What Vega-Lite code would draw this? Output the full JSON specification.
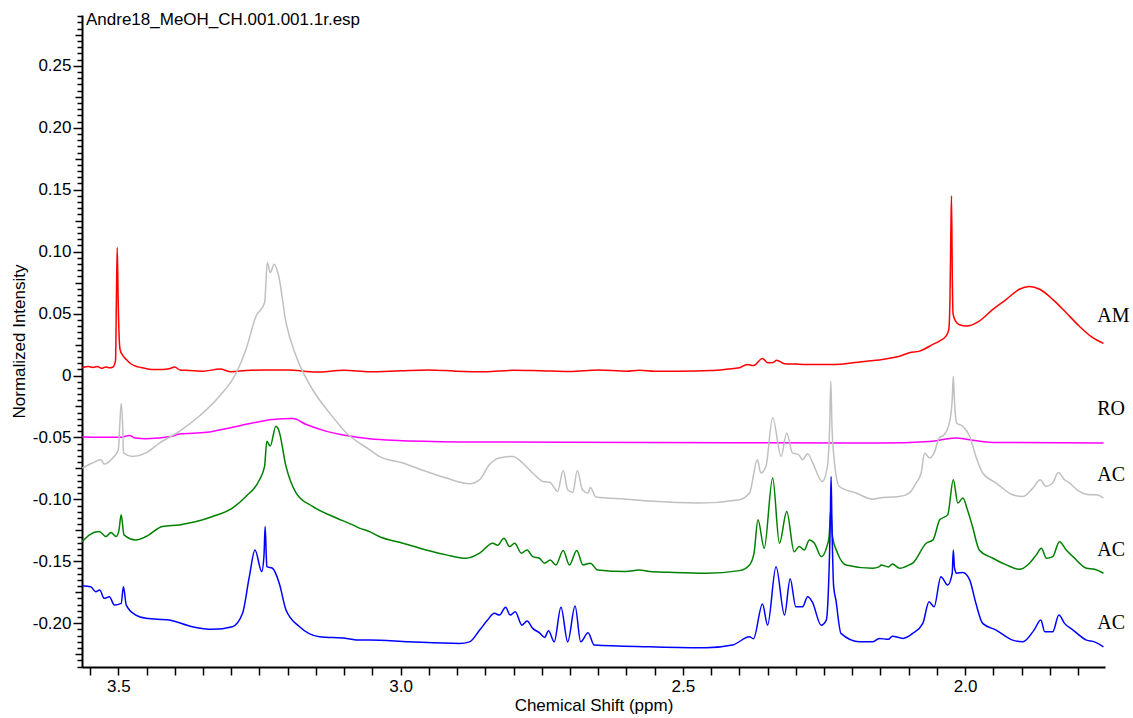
{
  "$schema": "https://vega.github.io/schema/vega-lite/v6.json",
  "width": 1023,
  "height": 652,
  "autosize": {"type": "none"},
  "padding": {"left": 82, "top": 15, "right": 28, "bottom": 51},
  "background": "white",
  "config": {"view": {"stroke": null}, "font": "Liberation Sans"},
  "title": {
    "text": "Andre18_MeOH_CH.001.001.1r.esp",
    "anchor": "start",
    "frame": "group",
    "orient": "top",
    "offset": -22,
    "dx": 4,
    "font": "Liberation Sans",
    "fontSize": 17,
    "fontWeight": "normal",
    "color": "black"
  },
  "datasets": {
    "spectra": [
      {"trace":"AM","ppm":3.564,"intensity":0.0062},{"trace":"AM","ppm":3.553,"intensity":0.0072},{"trace":"AM","ppm":3.545,"intensity":0.0065},{"trace":"AM","ppm":3.537,"intensity":0.0072},{"trace":"AM","ppm":3.530,"intensity":0.0058},{"trace":"AM","ppm":3.522,"intensity":0.0068},{"trace":"AM","ppm":3.515,"intensity":0.0062},{"trace":"AM","ppm":3.510,"intensity":0.0066},{"trace":"AM","ppm":3.505,"intensity":0.012},{"trace":"AM","ppm":3.5035,"intensity":0.06},{"trace":"AM","ppm":3.502,"intensity":0.1033},{"trace":"AM","ppm":3.5005,"intensity":0.065},{"trace":"AM","ppm":3.4985,"intensity":0.03},{"trace":"AM","ppm":3.497,"intensity":0.021},{"trace":"AM","ppm":3.492,"intensity":0.016},{"trace":"AM","ppm":3.486,"intensity":0.0129},{"trace":"AM","ppm":3.478,"intensity":0.0095},{"trace":"AM","ppm":3.469,"intensity":0.0075},{"trace":"AM","ppm":3.460,"intensity":0.0065},{"trace":"AM","ppm":3.450,"intensity":0.0055},{"trace":"AM","ppm":3.435,"intensity":0.0048},{"trace":"AM","ppm":3.422,"intensity":0.0049},{"trace":"AM","ppm":3.410,"intensity":0.0055},{"trace":"AM","ppm":3.400,"intensity":0.0068},{"trace":"AM","ppm":3.391,"intensity":0.0045},{"trace":"AM","ppm":3.381,"intensity":0.0042},{"trace":"AM","ppm":3.350,"intensity":0.0035},{"trace":"AM","ppm":3.320,"intensity":0.0052},{"trace":"AM","ppm":3.300,"intensity":0.003},{"trace":"AM","ppm":3.274,"intensity":0.004},{"trace":"AM","ppm":3.240,"intensity":0.0045},{"trace":"AM","ppm":3.200,"intensity":0.0045},{"trace":"AM","ppm":3.150,"intensity":0.0028},{"trace":"AM","ppm":3.100,"intensity":0.0042},{"trace":"AM","ppm":3.055,"intensity":0.003},{"trace":"AM","ppm":3.000,"intensity":0.0038},{"trace":"AM","ppm":2.950,"intensity":0.0045},{"trace":"AM","ppm":2.903,"intensity":0.0035},{"trace":"AM","ppm":2.850,"intensity":0.003},{"trace":"AM","ppm":2.800,"intensity":0.0042},{"trace":"AM","ppm":2.753,"intensity":0.0038},{"trace":"AM","ppm":2.700,"intensity":0.0032},{"trace":"AM","ppm":2.650,"intensity":0.0045},{"trace":"AM","ppm":2.600,"intensity":0.0035},{"trace":"AM","ppm":2.577,"intensity":0.0043},{"trace":"AM","ppm":2.550,"intensity":0.0035},{"trace":"AM","ppm":2.506,"intensity":0.0035},{"trace":"AM","ppm":2.450,"intensity":0.004},{"trace":"AM","ppm":2.420,"intensity":0.0052},{"trace":"AM","ppm":2.400,"intensity":0.0062},{"trace":"AM","ppm":2.386,"intensity":0.0089},{"trace":"AM","ppm":2.375,"intensity":0.008},{"trace":"AM","ppm":2.359,"intensity":0.0138},{"trace":"AM","ppm":2.350,"intensity":0.0103},{"trace":"AM","ppm":2.340,"intensity":0.0105},{"trace":"AM","ppm":2.334,"intensity":0.0124},{"trace":"AM","ppm":2.320,"intensity":0.0095},{"trace":"AM","ppm":2.300,"intensity":0.0092},{"trace":"AM","ppm":2.282,"intensity":0.0089},{"trace":"AM","ppm":2.229,"intensity":0.0089},{"trace":"AM","ppm":2.175,"intensity":0.0116},{"trace":"AM","ppm":2.152,"intensity":0.0125},{"trace":"AM","ppm":2.129,"intensity":0.0143},{"trace":"AM","ppm":2.116,"intensity":0.0156},{"trace":"AM","ppm":2.099,"intensity":0.0184},{"trace":"AM","ppm":2.081,"intensity":0.0197},{"trace":"AM","ppm":2.057,"intensity":0.0251},{"trace":"AM","ppm":2.045,"intensity":0.028},{"trace":"AM","ppm":2.034,"intensity":0.0318},{"trace":"AM","ppm":2.029,"intensity":0.037},{"trace":"AM","ppm":2.027,"intensity":0.06},{"trace":"AM","ppm":2.0255,"intensity":0.11},{"trace":"AM","ppm":2.0242,"intensity":0.1451},{"trace":"AM","ppm":2.0228,"intensity":0.08},{"trace":"AM","ppm":2.0215,"intensity":0.05},{"trace":"AM","ppm":2.017,"intensity":0.0439},{"trace":"AM","ppm":2.010,"intensity":0.041},{"trace":"AM","ppm":1.997,"intensity":0.0399},{"trace":"AM","ppm":1.975,"intensity":0.0439},{"trace":"AM","ppm":1.951,"intensity":0.0534},{"trace":"AM","ppm":1.927,"intensity":0.0615},{"trace":"AM","ppm":1.904,"intensity":0.0696},{"trace":"AM","ppm":1.886,"intensity":0.0718},{"trace":"AM","ppm":1.868,"intensity":0.0696},{"trace":"AM","ppm":1.845,"intensity":0.0615},{"trace":"AM","ppm":1.821,"intensity":0.0507},{"trace":"AM","ppm":1.798,"intensity":0.0399},{"trace":"AM","ppm":1.774,"intensity":0.0305},{"trace":"AM","ppm":1.755,"intensity":0.0259},

      {"trace":"RO","ppm":3.564,"intensity":-0.0496},{"trace":"RO","ppm":3.498,"intensity":-0.0499},{"trace":"RO","ppm":3.480,"intensity":-0.0485},{"trace":"RO","ppm":3.470,"intensity":-0.0505},{"trace":"RO","ppm":3.451,"intensity":-0.051},{"trace":"RO","ppm":3.404,"intensity":-0.0491},{"trace":"RO","ppm":3.392,"intensity":-0.0472},{"trace":"RO","ppm":3.344,"intensity":-0.0459},{"trace":"RO","ppm":3.303,"intensity":-0.0423},{"trace":"RO","ppm":3.262,"intensity":-0.0383},{"trace":"RO","ppm":3.227,"intensity":-0.0356},{"trace":"RO","ppm":3.191,"intensity":-0.0348},{"trace":"RO","ppm":3.167,"intensity":-0.0396},{"trace":"RO","ppm":3.131,"intensity":-0.0451},{"trace":"RO","ppm":3.096,"intensity":-0.0485},{"trace":"RO","ppm":3.055,"intensity":-0.051},{"trace":"RO","ppm":3.014,"intensity":-0.0523},{"trace":"RO","ppm":2.896,"intensity":-0.0536},{"trace":"RO","ppm":2.559,"intensity":-0.054},{"trace":"RO","ppm":2.206,"intensity":-0.0545},{"trace":"RO","ppm":2.152,"intensity":-0.0545},{"trace":"RO","ppm":2.063,"intensity":-0.0532},{"trace":"RO","ppm":2.016,"intensity":-0.0504},{"trace":"RO","ppm":1.992,"intensity":-0.0518},{"trace":"RO","ppm":1.951,"intensity":-0.054},{"trace":"RO","ppm":1.755,"intensity":-0.0545},

      {"trace":"AC1","ppm":3.564,"intensity":-0.0747},{"trace":"AC1","ppm":3.546,"intensity":-0.0706},{"trace":"AC1","ppm":3.531,"intensity":-0.068},{"trace":"AC1","ppm":3.525,"intensity":-0.0715},{"trace":"AC1","ppm":3.510,"intensity":-0.0666},{"trace":"AC1","ppm":3.500,"intensity":-0.06},{"trace":"AC1","ppm":3.4975,"intensity":-0.04},{"trace":"AC1","ppm":3.495,"intensity":-0.0227},{"trace":"AC1","ppm":3.492,"intensity":-0.045},{"trace":"AC1","ppm":3.491,"intensity":-0.0625},{"trace":"AC1","ppm":3.475,"intensity":-0.0653},{"trace":"AC1","ppm":3.451,"intensity":-0.0625},{"trace":"AC1","ppm":3.427,"intensity":-0.0545},{"trace":"AC1","ppm":3.392,"intensity":-0.0451},{"trace":"AC1","ppm":3.357,"intensity":-0.0329},{"trace":"AC1","ppm":3.321,"intensity":-0.0167},{"trace":"AC1","ppm":3.291,"intensity":0.0022},{"trace":"AC1","ppm":3.274,"intensity":0.021},{"trace":"AC1","ppm":3.256,"intensity":0.048},{"trace":"AC1","ppm":3.241,"intensity":0.0588},{"trace":"AC1","ppm":3.236,"intensity":0.0912},{"trace":"AC1","ppm":3.231,"intensity":0.0831},{"trace":"AC1","ppm":3.224,"intensity":0.0898},{"trace":"AC1","ppm":3.216,"intensity":0.0803},{"trace":"AC1","ppm":3.203,"intensity":0.0426},{"trace":"AC1","ppm":3.185,"intensity":0.0156},{"trace":"AC1","ppm":3.156,"intensity":-0.0113},{"trace":"AC1","ppm":3.126,"intensity":-0.0302},{"trace":"AC1","ppm":3.096,"intensity":-0.0464},{"trace":"AC1","ppm":3.055,"intensity":-0.0599},{"trace":"AC1","ppm":3.038,"intensity":-0.0653},{"trace":"AC1","ppm":2.996,"intensity":-0.0706},{"trace":"AC1","ppm":2.955,"intensity":-0.0774},{"trace":"AC1","ppm":2.919,"intensity":-0.0828},{"trace":"AC1","ppm":2.878,"intensity":-0.0874},{"trace":"AC1","ppm":2.860,"intensity":-0.0841},{"trace":"AC1","ppm":2.843,"intensity":-0.072},{"trace":"AC1","ppm":2.825,"intensity":-0.0666},{"trace":"AC1","ppm":2.801,"intensity":-0.0653},{"trace":"AC1","ppm":2.784,"intensity":-0.0706},{"trace":"AC1","ppm":2.766,"intensity":-0.0787},{"trace":"AC1","ppm":2.748,"intensity":-0.0855},{"trace":"AC1","ppm":2.735,"intensity":-0.0863},{"trace":"AC1","ppm":2.722,"intensity":-0.0936},{"trace":"AC1","ppm":2.712,"intensity":-0.0766},{"trace":"AC1","ppm":2.704,"intensity":-0.0922},{"trace":"AC1","ppm":2.695,"intensity":-0.0944},{"trace":"AC1","ppm":2.687,"intensity":-0.0766},{"trace":"AC1","ppm":2.678,"intensity":-0.0922},{"trace":"AC1","ppm":2.668,"intensity":-0.0949},{"trace":"AC1","ppm":2.664,"intensity":-0.0904},{"trace":"AC1","ppm":2.654,"intensity":-0.0981},{"trace":"AC1","ppm":2.601,"intensity":-0.0998},{"trace":"AC1","ppm":2.559,"intensity":-0.1014},{"trace":"AC1","ppm":2.471,"intensity":-0.103},{"trace":"AC1","ppm":2.400,"intensity":-0.1003},{"trace":"AC1","ppm":2.382,"intensity":-0.0949},{"trace":"AC1","ppm":2.368,"intensity":-0.068},{"trace":"AC1","ppm":2.362,"intensity":-0.0787},{"trace":"AC1","ppm":2.353,"intensity":-0.0734},{"trace":"AC1","ppm":2.341,"intensity":-0.0342},{"trace":"AC1","ppm":2.326,"intensity":-0.0653},{"trace":"AC1","ppm":2.316,"intensity":-0.0464},{"trace":"AC1","ppm":2.306,"intensity":-0.0625},{"trace":"AC1","ppm":2.295,"intensity":-0.0639},{"trace":"AC1","ppm":2.288,"intensity":-0.068},{"trace":"AC1","ppm":2.279,"intensity":-0.0631},{"trace":"AC1","ppm":2.270,"intensity":-0.0706},{"trace":"AC1","ppm":2.253,"intensity":-0.0855},{"trace":"AC1","ppm":2.244,"intensity":-0.0734},{"trace":"AC1","ppm":2.240,"intensity":-0.04},{"trace":"AC1","ppm":2.238,"intensity":-0.0046},{"trace":"AC1","ppm":2.236,"intensity":-0.04},{"trace":"AC1","ppm":2.232,"intensity":-0.068},{"trace":"AC1","ppm":2.223,"intensity":-0.0896},{"trace":"AC1","ppm":2.193,"intensity":-0.0949},{"trace":"AC1","ppm":2.164,"intensity":-0.0998},{"trace":"AC1","ppm":2.152,"intensity":-0.0989},{"trace":"AC1","ppm":2.129,"intensity":-0.0981},{"trace":"AC1","ppm":2.117,"intensity":-0.0977},{"trace":"AC1","ppm":2.099,"intensity":-0.0949},{"trace":"AC1","ppm":2.087,"intensity":-0.0868},{"trace":"AC1","ppm":2.078,"intensity":-0.0787},{"trace":"AC1","ppm":2.072,"intensity":-0.0625},{"trace":"AC1","ppm":2.063,"intensity":-0.0666},{"trace":"AC1","ppm":2.055,"intensity":-0.0625},{"trace":"AC1","ppm":2.046,"intensity":-0.0504},{"trace":"AC1","ppm":2.037,"intensity":-0.0477},{"trace":"AC1","ppm":2.028,"intensity":-0.0383},{"trace":"AC1","ppm":2.023,"intensity":-0.02},{"trace":"AC1","ppm":2.021,"intensity":-0.0006},{"trace":"AC1","ppm":2.019,"intensity":-0.02},{"trace":"AC1","ppm":2.015,"intensity":-0.0383},{"trace":"AC1","ppm":2.004,"intensity":-0.041},{"trace":"AC1","ppm":1.992,"intensity":-0.0491},{"trace":"AC1","ppm":1.981,"intensity":-0.0653},{"trace":"AC1","ppm":1.969,"intensity":-0.0787},{"trace":"AC1","ppm":1.945,"intensity":-0.0868},{"trace":"AC1","ppm":1.916,"intensity":-0.0963},{"trace":"AC1","ppm":1.898,"intensity":-0.0977},{"trace":"AC1","ppm":1.880,"intensity":-0.0909},{"trace":"AC1","ppm":1.867,"intensity":-0.0841},{"trace":"AC1","ppm":1.857,"intensity":-0.0896},{"trace":"AC1","ppm":1.845,"intensity":-0.0868},{"trace":"AC1","ppm":1.835,"intensity":-0.0782},{"trace":"AC1","ppm":1.824,"intensity":-0.0841},{"trace":"AC1","ppm":1.815,"intensity":-0.0868},{"trace":"AC1","ppm":1.798,"intensity":-0.0936},{"trace":"AC1","ppm":1.780,"intensity":-0.0963},{"trace":"AC1","ppm":1.768,"intensity":-0.0963},{"trace":"AC1","ppm":1.755,"intensity":-0.0989},

      {"trace":"AC2","ppm":3.564,"intensity":-0.1341},{"trace":"AC2","ppm":3.551,"intensity":-0.1286},{"trace":"AC2","ppm":3.534,"intensity":-0.126},{"trace":"AC2","ppm":3.522,"intensity":-0.13},{"trace":"AC2","ppm":3.513,"intensity":-0.1268},{"trace":"AC2","ppm":3.504,"intensity":-0.13},{"trace":"AC2","ppm":3.499,"intensity":-0.125},{"trace":"AC2","ppm":3.495,"intensity":-0.1125},{"trace":"AC2","ppm":3.490,"intensity":-0.1286},{"trace":"AC2","ppm":3.469,"intensity":-0.1327},{"trace":"AC2","ppm":3.451,"intensity":-0.13},{"trace":"AC2","ppm":3.422,"intensity":-0.1219},{"trace":"AC2","ppm":3.392,"intensity":-0.1206},{"trace":"AC2","ppm":3.362,"intensity":-0.1179},{"trace":"AC2","ppm":3.333,"intensity":-0.1138},{"trace":"AC2","ppm":3.298,"intensity":-0.107},{"trace":"AC2","ppm":3.274,"intensity":-0.0977},{"trace":"AC2","ppm":3.250,"intensity":-0.0841},{"trace":"AC2","ppm":3.241,"intensity":-0.0734},{"trace":"AC2","ppm":3.237,"intensity":-0.053},{"trace":"AC2","ppm":3.231,"intensity":-0.057},{"trace":"AC2","ppm":3.221,"intensity":-0.041},{"trace":"AC2","ppm":3.216,"intensity":-0.044},{"trace":"AC2","ppm":3.203,"intensity":-0.0734},{"trace":"AC2","ppm":3.185,"intensity":-0.0949},{"trace":"AC2","ppm":3.156,"intensity":-0.1057},{"trace":"AC2","ppm":3.120,"intensity":-0.1138},{"trace":"AC2","ppm":3.085,"intensity":-0.1206},{"trace":"AC2","ppm":3.073,"intensity":-0.1232},{"trace":"AC2","ppm":3.055,"intensity":-0.126},{"trace":"AC2","ppm":3.038,"intensity":-0.13},{"trace":"AC2","ppm":2.996,"intensity":-0.1354},{"trace":"AC2","ppm":2.955,"intensity":-0.1408},{"trace":"AC2","ppm":2.919,"intensity":-0.1448},{"trace":"AC2","ppm":2.884,"intensity":-0.1475},{"trace":"AC2","ppm":2.860,"intensity":-0.1434},{"trace":"AC2","ppm":2.837,"intensity":-0.1354},{"trace":"AC2","ppm":2.828,"intensity":-0.137},{"trace":"AC2","ppm":2.817,"intensity":-0.1313},{"trace":"AC2","ppm":2.807,"intensity":-0.1381},{"trace":"AC2","ppm":2.798,"intensity":-0.1354},{"trace":"AC2","ppm":2.786,"intensity":-0.1434},{"trace":"AC2","ppm":2.776,"intensity":-0.1408},{"trace":"AC2","ppm":2.766,"intensity":-0.1462},{"trace":"AC2","ppm":2.754,"intensity":-0.1475},{"trace":"AC2","ppm":2.745,"intensity":-0.1515},{"trace":"AC2","ppm":2.735,"intensity":-0.1489},{"trace":"AC2","ppm":2.725,"intensity":-0.1529},{"trace":"AC2","ppm":2.712,"intensity":-0.1413},{"trace":"AC2","ppm":2.701,"intensity":-0.1529},{"trace":"AC2","ppm":2.688,"intensity":-0.1413},{"trace":"AC2","ppm":2.677,"intensity":-0.1529},{"trace":"AC2","ppm":2.664,"intensity":-0.1515},{"trace":"AC2","ppm":2.651,"intensity":-0.157},{"trace":"AC2","ppm":2.601,"intensity":-0.1583},{"trace":"AC2","ppm":2.577,"intensity":-0.157},{"trace":"AC2","ppm":2.559,"intensity":-0.1583},{"trace":"AC2","ppm":2.524,"intensity":-0.1589},{"trace":"AC2","ppm":2.459,"intensity":-0.1596},{"trace":"AC2","ppm":2.400,"intensity":-0.1575},{"trace":"AC2","ppm":2.382,"intensity":-0.1529},{"trace":"AC2","ppm":2.374,"intensity":-0.1434},{"trace":"AC2","ppm":2.367,"intensity":-0.1165},{"trace":"AC2","ppm":2.356,"intensity":-0.1394},{"trace":"AC2","ppm":2.341,"intensity":-0.0828},{"trace":"AC2","ppm":2.329,"intensity":-0.1354},{"trace":"AC2","ppm":2.316,"intensity":-0.1098},{"trace":"AC2","ppm":2.303,"intensity":-0.1422},{"trace":"AC2","ppm":2.294,"intensity":-0.1381},{"trace":"AC2","ppm":2.285,"intensity":-0.1408},{"trace":"AC2","ppm":2.276,"intensity":-0.1327},{"trace":"AC2","ppm":2.267,"intensity":-0.1354},{"trace":"AC2","ppm":2.255,"intensity":-0.1462},{"trace":"AC2","ppm":2.245,"intensity":-0.1381},{"trace":"AC2","ppm":2.241,"intensity":-0.13},{"trace":"AC2","ppm":2.238,"intensity":-0.108},{"trace":"AC2","ppm":2.235,"intensity":-0.13},{"trace":"AC2","ppm":2.226,"intensity":-0.1434},{"trace":"AC2","ppm":2.211,"intensity":-0.1529},{"trace":"AC2","ppm":2.164,"intensity":-0.1556},{"trace":"AC2","ppm":2.152,"intensity":-0.1543},{"trace":"AC2","ppm":2.149,"intensity":-0.1529},{"trace":"AC2","ppm":2.136,"intensity":-0.1545},{"trace":"AC2","ppm":2.129,"intensity":-0.1521},{"trace":"AC2","ppm":2.116,"intensity":-0.1556},{"trace":"AC2","ppm":2.099,"intensity":-0.1529},{"trace":"AC2","ppm":2.093,"intensity":-0.1515},{"trace":"AC2","ppm":2.069,"intensity":-0.1354},{"trace":"AC2","ppm":2.057,"intensity":-0.1327},{"trace":"AC2","ppm":2.045,"intensity":-0.1165},{"trace":"AC2","ppm":2.031,"intensity":-0.1125},{"trace":"AC2","ppm":2.021,"intensity":-0.0841},{"trace":"AC2","ppm":2.013,"intensity":-0.103},{"trace":"AC2","ppm":2.004,"intensity":-0.0989},{"trace":"AC2","ppm":1.996,"intensity":-0.1084},{"trace":"AC2","ppm":1.987,"intensity":-0.1219},{"trace":"AC2","ppm":1.975,"intensity":-0.1408},{"trace":"AC2","ppm":1.951,"intensity":-0.1475},{"trace":"AC2","ppm":1.927,"intensity":-0.1529},{"trace":"AC2","ppm":1.904,"intensity":-0.1564},{"trace":"AC2","ppm":1.886,"intensity":-0.1515},{"trace":"AC2","ppm":1.874,"intensity":-0.1448},{"trace":"AC2","ppm":1.865,"intensity":-0.1394},{"trace":"AC2","ppm":1.856,"intensity":-0.1475},{"trace":"AC2","ppm":1.845,"intensity":-0.1462},{"trace":"AC2","ppm":1.833,"intensity":-0.1341},{"trace":"AC2","ppm":1.821,"intensity":-0.1408},{"trace":"AC2","ppm":1.809,"intensity":-0.1462},{"trace":"AC2","ppm":1.785,"intensity":-0.1556},{"trace":"AC2","ppm":1.771,"intensity":-0.1564},{"trace":"AC2","ppm":1.755,"intensity":-0.1596},

      {"trace":"AC3","ppm":3.564,"intensity":-0.1697},{"trace":"AC3","ppm":3.549,"intensity":-0.1705},{"trace":"AC3","ppm":3.540,"intensity":-0.1745},{"trace":"AC3","ppm":3.533,"intensity":-0.1731},{"trace":"AC3","ppm":3.525,"intensity":-0.1799},{"trace":"AC3","ppm":3.516,"intensity":-0.1786},{"trace":"AC3","ppm":3.507,"intensity":-0.1853},{"trace":"AC3","ppm":3.495,"intensity":-0.1839},{"trace":"AC3","ppm":3.491,"intensity":-0.1705},{"trace":"AC3","ppm":3.486,"intensity":-0.1853},{"trace":"AC3","ppm":3.469,"intensity":-0.1934},{"trace":"AC3","ppm":3.451,"intensity":-0.196},{"trace":"AC3","ppm":3.410,"intensity":-0.1974},{"trace":"AC3","ppm":3.369,"intensity":-0.2028},{"trace":"AC3","ppm":3.333,"intensity":-0.2049},{"trace":"AC3","ppm":3.298,"intensity":-0.2028},{"trace":"AC3","ppm":3.280,"intensity":-0.192},{"trace":"AC3","ppm":3.268,"intensity":-0.1624},{"trace":"AC3","ppm":3.258,"intensity":-0.1408},{"trace":"AC3","ppm":3.246,"intensity":-0.1583},{"trace":"AC3","ppm":3.242,"intensity":-0.145},{"trace":"AC3","ppm":3.240,"intensity":-0.1219},{"trace":"AC3","ppm":3.238,"intensity":-0.145},{"trace":"AC3","ppm":3.237,"intensity":-0.1543},{"trace":"AC3","ppm":3.227,"intensity":-0.1556},{"trace":"AC3","ppm":3.215,"intensity":-0.1677},{"trace":"AC3","ppm":3.203,"intensity":-0.1893},{"trace":"AC3","ppm":3.179,"intensity":-0.2028},{"trace":"AC3","ppm":3.144,"intensity":-0.2109},{"trace":"AC3","ppm":3.096,"intensity":-0.2122},{"trace":"AC3","ppm":3.073,"intensity":-0.2136},{"trace":"AC3","ppm":3.055,"intensity":-0.2136},{"trace":"AC3","ppm":2.985,"intensity":-0.215},{"trace":"AC3","ppm":2.896,"intensity":-0.2163},{"trace":"AC3","ppm":2.878,"intensity":-0.215},{"trace":"AC3","ppm":2.860,"intensity":-0.2055},{"trace":"AC3","ppm":2.846,"intensity":-0.1974},{"trace":"AC3","ppm":2.834,"intensity":-0.192},{"trace":"AC3","ppm":2.825,"intensity":-0.1934},{"trace":"AC3","ppm":2.814,"intensity":-0.1871},{"trace":"AC3","ppm":2.806,"intensity":-0.1934},{"trace":"AC3","ppm":2.797,"intensity":-0.1907},{"trace":"AC3","ppm":2.785,"intensity":-0.2015},{"trace":"AC3","ppm":2.776,"intensity":-0.1982},{"trace":"AC3","ppm":2.766,"intensity":-0.2041},{"trace":"AC3","ppm":2.754,"intensity":-0.2077},{"trace":"AC3","ppm":2.745,"intensity":-0.2114},{"trace":"AC3","ppm":2.738,"intensity":-0.2061},{"trace":"AC3","ppm":2.728,"intensity":-0.215},{"trace":"AC3","ppm":2.716,"intensity":-0.1871},{"trace":"AC3","ppm":2.704,"intensity":-0.215},{"trace":"AC3","ppm":2.691,"intensity":-0.1861},{"trace":"AC3","ppm":2.681,"intensity":-0.215},{"trace":"AC3","ppm":2.668,"intensity":-0.2077},{"trace":"AC3","ppm":2.657,"intensity":-0.2176},{"trace":"AC3","ppm":2.559,"intensity":-0.219},{"trace":"AC3","ppm":2.459,"intensity":-0.2198},{"trace":"AC3","ppm":2.412,"intensity":-0.2176},{"trace":"AC3","ppm":2.382,"intensity":-0.2109},{"trace":"AC3","ppm":2.375,"intensity":-0.2125},{"trace":"AC3","ppm":2.359,"intensity":-0.1845},{"trace":"AC3","ppm":2.350,"intensity":-0.2015},{"trace":"AC3","ppm":2.335,"intensity":-0.1543},{"trace":"AC3","ppm":2.320,"intensity":-0.1934},{"trace":"AC3","ppm":2.310,"intensity":-0.164},{"trace":"AC3","ppm":2.300,"intensity":-0.1867},{"trace":"AC3","ppm":2.288,"intensity":-0.1867},{"trace":"AC3","ppm":2.279,"intensity":-0.1786},{"trace":"AC3","ppm":2.271,"intensity":-0.1826},{"trace":"AC3","ppm":2.255,"intensity":-0.2015},{"trace":"AC3","ppm":2.246,"intensity":-0.1974},{"trace":"AC3","ppm":2.242,"intensity":-0.17},{"trace":"AC3","ppm":2.239,"intensity":-0.12},{"trace":"AC3","ppm":2.2375,"intensity":-0.0815},{"trace":"AC3","ppm":2.236,"intensity":-0.12},{"trace":"AC3","ppm":2.233,"intensity":-0.17},{"trace":"AC3","ppm":2.229,"intensity":-0.1812},{"trace":"AC3","ppm":2.220,"intensity":-0.2082},{"trace":"AC3","ppm":2.187,"intensity":-0.215},{"trace":"AC3","ppm":2.164,"intensity":-0.215},{"trace":"AC3","ppm":2.152,"intensity":-0.2122},{"trace":"AC3","ppm":2.136,"intensity":-0.213},{"trace":"AC3","ppm":2.129,"intensity":-0.2104},{"trace":"AC3","ppm":2.110,"intensity":-0.2122},{"trace":"AC3","ppm":2.093,"intensity":-0.2082},{"trace":"AC3","ppm":2.075,"intensity":-0.2001},{"trace":"AC3","ppm":2.064,"intensity":-0.1826},{"trace":"AC3","ppm":2.055,"intensity":-0.1867},{"trace":"AC3","ppm":2.043,"intensity":-0.1624},{"trace":"AC3","ppm":2.031,"intensity":-0.1691},{"trace":"AC3","ppm":2.023,"intensity":-0.16},{"trace":"AC3","ppm":2.021,"intensity":-0.1408},{"trace":"AC3","ppm":2.019,"intensity":-0.155},{"trace":"AC3","ppm":2.015,"intensity":-0.1596},{"trace":"AC3","ppm":2.004,"intensity":-0.159},{"trace":"AC3","ppm":1.992,"intensity":-0.165},{"trace":"AC3","ppm":1.981,"intensity":-0.1839},{"trace":"AC3","ppm":1.969,"intensity":-0.2001},{"trace":"AC3","ppm":1.945,"intensity":-0.2055},{"trace":"AC3","ppm":1.916,"intensity":-0.2136},{"trace":"AC3","ppm":1.898,"intensity":-0.215},{"trace":"AC3","ppm":1.878,"intensity":-0.2055},{"trace":"AC3","ppm":1.866,"intensity":-0.1974},{"trace":"AC3","ppm":1.859,"intensity":-0.2069},{"trace":"AC3","ppm":1.845,"intensity":-0.2069},{"trace":"AC3","ppm":1.834,"intensity":-0.1934},{"trace":"AC3","ppm":1.824,"intensity":-0.2001},{"trace":"AC3","ppm":1.809,"intensity":-0.2055},{"trace":"AC3","ppm":1.785,"intensity":-0.2136},{"trace":"AC3","ppm":1.771,"intensity":-0.215},{"trace":"AC3","ppm":1.755,"intensity":-0.219}
    ],
    "labels": [
      {"label":"AM","ppm":1.766,"intensity":0.048},
      {"label":"RO","ppm":1.766,"intensity":-0.027},
      {"label":"AC","ppm":1.766,"intensity":-0.0803},
      {"label":"AC","ppm":1.766,"intensity":-0.141},
      {"label":"AC","ppm":1.766,"intensity":-0.2}
    ]
  },
  "layer": [
    {
      "data": {"name": "spectra"},
      "mark": {"type": "line", "strokeWidth": 1.5, "clip": true, "interpolate": "monotone"},
      "encoding": {
        "x": {
          "field": "ppm", "type": "quantitative",
          "scale": {"domain": [1.7523, 3.5644], "reverse": true, "nice": false, "zero": false},
          "axis": {
            "title": "Chemical Shift (ppm)",
            "values": [3.55,3.5,3.45,3.4,3.35,3.3,3.25,3.2,3.15,3.1,3.05,3.0,2.95,2.9,2.85,2.8,2.75,2.7,2.65,2.6,2.55,2.5,2.45,2.4,2.35,2.3,2.25,2.2,2.15,2.1,2.05,2.0,1.95,1.9,1.85,1.8,1.75],
            "tickCount": 500,
            "labelExpr": "abs(round(datum.value*20) % 10) == 0 ? format(datum.value, '.1f') : ''",
            "tickSize": 8, "tickWidth": 1.5, "tickColor": "black",
            "domainColor": "black", "domainWidth": 2,
            "labelFont": "Liberation Sans", "labelFontSize": 17, "labelColor": "black", "labelPadding": 3,
            "labelOverlap": false, "labelFlush": false, "labelBound": false,
            "titleFont": "Liberation Sans", "titleFontSize": 17, "titleFontWeight": "normal", "titleColor": "black", "titlePadding": 3,
            "grid": false
          }
        },
        "y": {
          "field": "intensity", "type": "quantitative",
          "scale": {"domain": [-0.2353, 0.291], "nice": false, "zero": false},
          "axis": {
            "title": "Normalized Intensity",
            "values": [-0.235,-0.23,-0.225,-0.22,-0.215,-0.21,-0.205,-0.2,-0.195,-0.19,-0.185,-0.18,-0.175,-0.17,-0.165,-0.16,-0.155,-0.15,-0.145,-0.14,-0.135,-0.13,-0.125,-0.12,-0.115,-0.11,-0.105,-0.1,-0.095,-0.09,-0.085,-0.08,-0.075,-0.07,-0.065,-0.06,-0.055,-0.05,-0.045,-0.04,-0.035,-0.03,-0.025,-0.02,-0.015,-0.01,-0.005,0,0.005,0.01,0.015,0.02,0.025,0.03,0.035,0.04,0.045,0.05,0.055,0.06,0.065,0.07,0.075,0.08,0.085,0.09,0.095,0.1,0.105,0.11,0.115,0.12,0.125,0.13,0.135,0.14,0.145,0.15,0.155,0.16,0.165,0.17,0.175,0.18,0.185,0.19,0.195,0.2,0.205,0.21,0.215,0.22,0.225,0.23,0.235,0.24,0.245,0.25,0.255,0.26,0.265,0.27,0.275,0.28,0.285,0.29],
            "tickCount": 500,
            "labelExpr": "abs(round(datum.value*200) % 10) == 0 ? (abs(datum.value) < 1e-9 ? '0' : replace(format(datum.value, '.2f'), '\u2212', '-')) : ''",
            "tickSize": {"condition": [{"test": "abs(round(datum.value*200) % 10) == 0", "value": 9}, {"test": "abs(round(datum.value*200) % 5) == 0", "value": 7}], "value": 5},
            "tickWidth": 1.5, "tickColor": "black",
            "domainColor": "black", "domainWidth": 2,
            "labelFont": "Liberation Sans", "labelFontSize": 17, "labelColor": "black", "labelPadding": 2,
            "labelOverlap": false, "labelFlush": false, "labelBound": false,
            "titleFont": "Liberation Sans", "titleFontSize": 17, "titleFontWeight": "normal", "titleColor": "black", "titlePadding": 4,
            "grid": false
          }
        },
        "color": {
          "field": "trace", "type": "nominal",
          "scale": {"domain": ["AM", "RO", "AC1", "AC2", "AC3"], "range": ["#ff0000", "#ff00ff", "#c0c0c0", "#008000", "#0000ff"]},
          "legend": null
        }
      }
    },
    {
      "data": {"name": "labels"},
      "mark": {"type": "text", "align": "left", "baseline": "middle", "font": "Liberation Serif", "fontSize": 20, "color": "black"},
      "encoding": {
        "x": {"field": "ppm", "type": "quantitative"},
        "y": {"field": "intensity", "type": "quantitative"},
        "text": {"field": "label"}
      }
    }
  ]
}
